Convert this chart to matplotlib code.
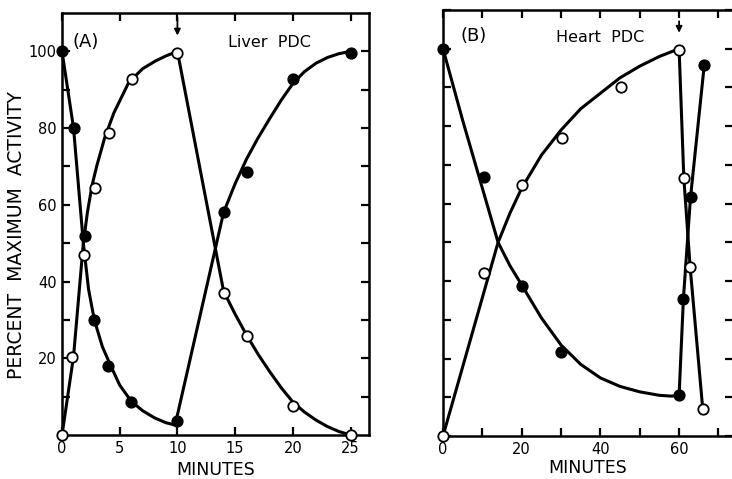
#!/usr/bin/env python3
"""Liver vs heart PDC activity time courses (two panels)."""

import matplotlib

matplotlib.use("Agg")
import matplotlib.pyplot as plt
from matplotlib.ticker import MultipleLocator, FixedLocator, NullFormatter

# ---- panel A: liver PDC -------------------------------------------------
a_filled_t = [0, 1, 2, 2.8, 4, 6, 10, 14, 16, 20, 25]
a_filled_y = [100, 80, 52, 30, 18, 8.7, 3.6, 58, 68.6, 92.9, 99.5]
a_open_t = [0, 0.85, 1.9, 2.85, 4.1, 6.05, 10, 14, 16, 20, 25]
a_open_y = [0, 20.4, 46.8, 64.3, 78.8, 92.8, 99.7, 37, 25.9, 7.6, 0]

# hand-drawn fitted lines
fit_a_filled_t = [0, 1, 1.85, 2.3, 2.8, 3.5, 4.2, 5, 6, 7, 8, 9, 9.8,
                  14, 15, 16, 17, 18, 19, 20, 21, 22, 23, 24, 25]
fit_a_filled_y = [100, 80, 50, 38, 30, 23, 18.2, 13, 8.8, 6.3, 4.5, 3.2, 2.6,
                  58, 65.5, 72, 77.5, 82.5, 87.3, 91.6, 94.7, 96.9, 98.4, 99.4, 100]
fit_a_open_t = [0, 1, 1.85, 2.2, 2.6, 3.0, 3.7, 4.5, 5.8, 7, 8.1, 9, 10,
                14, 15, 16, 17, 18, 19, 20, 21, 22, 23, 24, 25]
fit_a_open_y = [0, 20.5, 50, 58, 65, 70, 77.5, 84, 92, 95.5, 97.5, 98.8, 100,
                37.5, 31.5, 26, 21, 16.5, 12.3, 8.6, 6, 3.9, 2.2, 0.9, 0]

# ---- panel B: heart PDC -------------------------------------------------
b_filled_t = [0, 10.5, 20.2, 30.1, 59.9, 61.1, 62.9, 66.4]
b_filled_y = [100, 66.9, 38.8, 21.7, 10.5, 35.5, 61.6, 95.8]
b_open_t = [0, 10.3, 20.2, 30.3, 45.2, 59.9, 61.2, 62.8, 66]
b_open_y = [0, 42, 64.8, 77, 90, 99.8, 66.7, 43.7, 7.1]

fit_b_filled_t = [0, 5, 10, 14, 17, 20, 25, 30, 35, 40, 45, 50, 55, 58, 60,
                  61.1, 62.9, 66.4]
fit_b_filled_y = [100, 81.5, 64, 50, 44, 39, 30.5, 23.5, 18.5, 15, 12.8, 11.4,
                  10.5, 10.3, 10.5, 35.5, 61.6, 95.8]
fit_b_open_t = [0, 14, 17, 20, 25, 30, 35, 40, 45, 50, 55, 60, 61.2, 62.8, 66]
fit_b_open_y = [0, 50, 57.5, 64, 72.5, 79, 84.5, 88.5, 92.5, 95.5, 98, 100,
                66.7, 43.7, 7.1]

# time the arrow marks in each panel
arrow_a = 10
arrow_b = 60

plt.rcParams["font.family"] = ["DejaVu Sans"]

fig = plt.figure(figsize=(7.32, 4.79), dpi=100)
ax_a = fig.add_axes([62 / 732, 44 / 479, 307 / 732, 422 / 479])
ax_b = fig.add_axes([443 / 732, 43 / 479, 290 / 732, 426 / 479])


def draw_series(ax, fit_t, fit_y, t, y, filled):
    ax.plot(fit_t, fit_y, color="black", linewidth=2.2, solid_joinstyle="round",
            zorder=2, clip_on=False)
    ax.plot(t, y, linestyle="none", marker="o", markersize=7.5,
            markeredgewidth=1.3, markeredgecolor="black",
            markerfacecolor="black" if filled else "white",
            zorder=3, clip_on=False)


def style_axes(ax):
    for side in ax.spines.values():
        side.set_linewidth(1.8)
    ax.tick_params(which="both", direction="in", top=True, right=True,
                   length=6, width=1.6, labelsize=10.5, pad=4)


draw_series(ax_a, fit_a_filled_t, fit_a_filled_y, a_filled_t, a_filled_y, True)
draw_series(ax_a, fit_a_open_t, fit_a_open_y, a_open_t, a_open_y, False)
ax_a.set_xlim(0, 26.6)
ax_a.set_ylim(0, 110)
ax_a.xaxis.set_major_locator(MultipleLocator(5))
ax_a.yaxis.set_major_locator(FixedLocator([20, 40, 60, 80, 100]))
ax_a.yaxis.set_minor_locator(FixedLocator([10, 30, 50, 70, 90]))
style_axes(ax_a)
ax_a.set_xlabel("MINUTES", fontsize=12.5, labelpad=4)
ax_a.set_ylabel("PERCENT  MAXIMUM  ACTIVITY", fontsize=13.5)
ax_a.yaxis.set_label_coords(-0.118, 0.474)
ax_a.text(0.035, 0.931, "(A)", transform=ax_a.transAxes, fontsize=13,
          ha="left", va="center")
ax_a.text(0.541, 0.93, "Liver  PDC", transform=ax_a.transAxes, fontsize=11.5,
          ha="left", va="center")
ax_a.annotate("", xy=(arrow_a, 103.4), xytext=(arrow_a, 109.5),
              arrowprops=dict(arrowstyle="-|>", color="black", lw=1.3,
                              mutation_scale=9))

draw_series(ax_b, fit_b_filled_t, fit_b_filled_y, b_filled_t, b_filled_y, True)
draw_series(ax_b, fit_b_open_t, fit_b_open_y, b_open_t, b_open_y, False)
ax_b.set_xlim(0, 73.7)
ax_b.set_ylim(0, 110)
ax_b.xaxis.set_major_locator(MultipleLocator(20))
ax_b.xaxis.set_minor_locator(FixedLocator([10, 30, 50, 70]))
ax_b.yaxis.set_major_locator(MultipleLocator(10))
ax_b.yaxis.set_major_formatter(NullFormatter())
style_axes(ax_b)
ax_b.set_xlabel("MINUTES", fontsize=12.5, labelpad=2)
ax_b.text(0.059, 0.94, "(B)", transform=ax_b.transAxes, fontsize=13,
          ha="left", va="center")
ax_b.text(0.39, 0.935, "Heart  PDC", transform=ax_b.transAxes, fontsize=11.5,
          ha="left", va="center")
ax_b.annotate("", xy=(arrow_b, 103.4), xytext=(arrow_b, 107.8),
              arrowprops=dict(arrowstyle="-|>", color="black", lw=1.3,
                              mutation_scale=9))

fig.savefig("out.png", dpi=100)
